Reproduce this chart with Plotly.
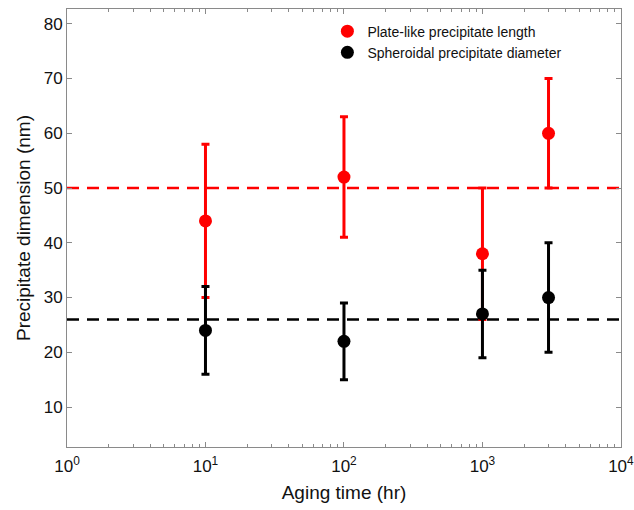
import plotly.graph_objects as go

aging_time = [10, 100, 1000, 3000]
plate_length = [44, 52, 38, 60]
plate_upper = [58, 63, 50, 70]
plate_lower = [30, 41, 26, 50]
sphere_diam = [24, 22, 27, 30]
sphere_upper = [32, 29, 35, 40]
sphere_lower = [16, 15, 19, 20]
plate_mean_line = 50
sphere_mean_line = 26
x_tick_vals = [1, 10, 100, 1000, 10000]
x_tick_text = ["10<sup>0</sup>", "10<sup>1</sup>", "10<sup>2</sup>", "10<sup>3</sup>", "10<sup>4</sup>"]
x_minor_vals = [m * d for d in [1, 10, 100, 1000] for m in range(2, 10)]
y_tick_vals = [10, 20, 30, 40, 50, 60, 70, 80]

fig = go.Figure()

for yv, col in [(plate_mean_line, "#ff0000"), (sphere_mean_line, "#000000")]:
    fig.add_shape(type="line", xref="paper", x0=0, x1=1, yref="y", y0=yv, y1=yv,
                  line=dict(color=col, width=2.5, dash="12px,8px"), layer="below")

def add_series(y, up, lo, col, name):
    fig.add_trace(go.Scatter(
        x=aging_time, y=y, mode="markers", name=name,
        marker=dict(color=col, size=13, symbol="circle"),
        error_y=dict(type="data", symmetric=False,
                     array=[u - v for u, v in zip(up, y)],
                     arrayminus=[v - l for l, v in zip(lo, y)],
                     color=col, thickness=3, width=4),
    ))

add_series(plate_length, plate_upper, plate_lower, "#ff0000", "Plate-like precipitate length")
add_series(sphere_diam, sphere_upper, sphere_lower, "#000000", "Spheroidal precipitate diameter")

axis_common = dict(showline=True, linecolor="#8a8a8a", linewidth=1, mirror="ticks",
                   ticks="inside", tickcolor="#8a8a8a", ticklen=5, showgrid=False,
                   zeroline=False, tickfont=dict(size=17, color="#111"), automargin=False)

fig.update_xaxes(type="log", range=[0, 4.0005], tickvals=x_tick_vals, ticktext=x_tick_text,
                 ticklabeloverflow="allow", ticklabelstandoff=4,
                 minor=dict(ticks="inside", ticklen=3, tickcolor="#8a8a8a", showgrid=False,
                            tickmode="array", tickvals=x_minor_vals),
                 title=dict(text="Aging time (hr)", font=dict(size=19, color="#111"), standoff=10),
                 **axis_common)
fig.update_yaxes(range=[2.7, 82.7], tickvals=y_tick_vals,
                 title=dict(text="Precipitate dimension (nm)", font=dict(size=19, color="#111"), standoff=8),
                 **axis_common)

fig.update_layout(
    width=634, height=510,
    margin=dict(l=67, r=13, t=9, b=63),
    plot_bgcolor="white", paper_bgcolor="white",
    font=dict(family="Liberation Sans, Arial, sans-serif", color="#111"),
    legend=dict(x=0.47, y=0.985, xanchor="left", yanchor="top",
                font=dict(size=14), bgcolor="rgba(0,0,0,0)", tracegroupgap=0,
                itemwidth=30),
    showlegend=True,
)

fig.write_html("out.html")
